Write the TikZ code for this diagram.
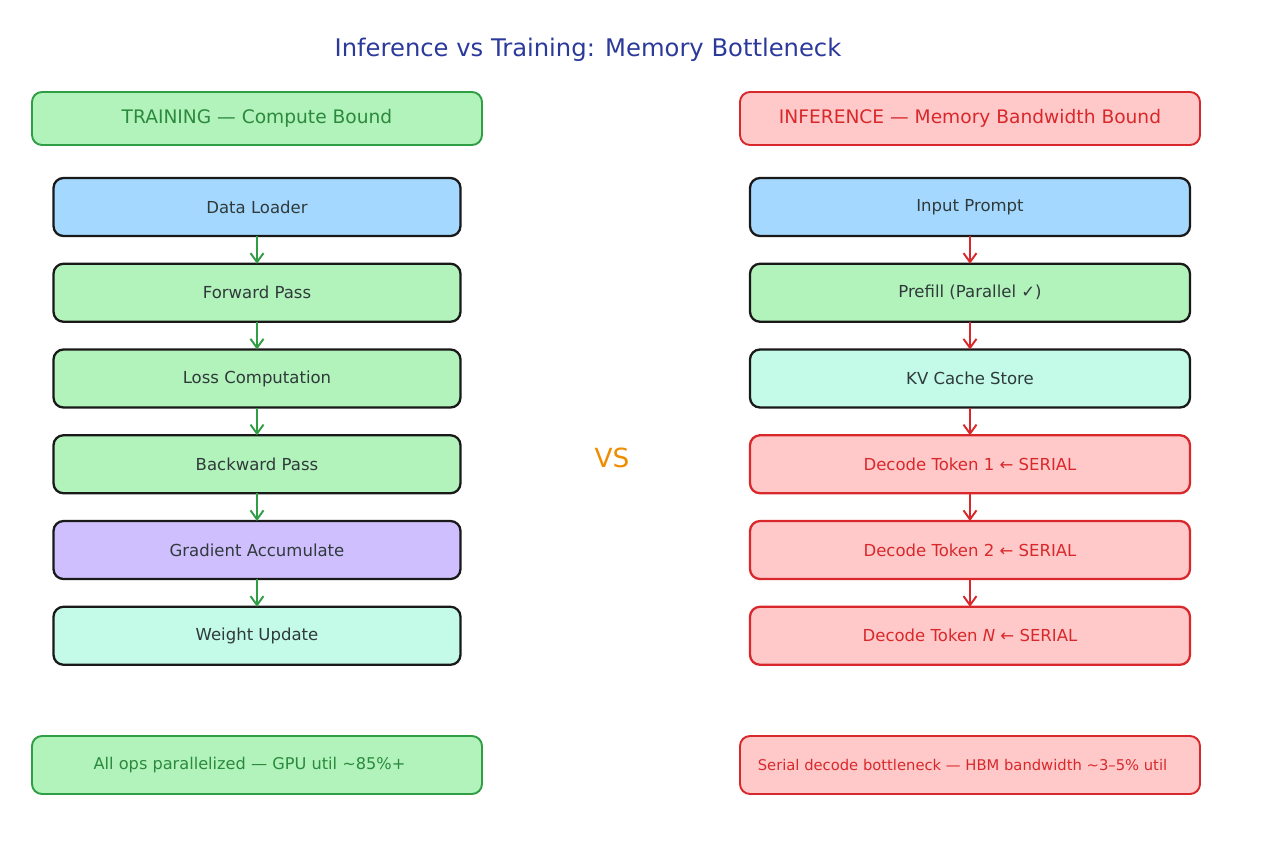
\documentclass[tikz,border=0pt]{standalone}
\usepackage{fontspec}
\setmainfont{DejaVu Sans}
\usepackage{xcolor}
\usetikzlibrary{arrows.meta, positioning}

\definecolor{titleblue}{HTML}{2B3A9A}
\definecolor{inkgray}{HTML}{2F3A3A}
\definecolor{linegreen}{HTML}{2F9E44}
\definecolor{textgreen}{HTML}{2B8A3E}
\definecolor{fillgreen}{HTML}{B2F2BB}
\definecolor{linered}{HTML}{D9282B}
\definecolor{fillred}{HTML}{FFC9C9}
\definecolor{fillblue}{HTML}{A5D8FF}
\definecolor{fillpurple}{HTML}{D0BFFF}
\definecolor{fillmint}{HTML}{C3FAE8}
\definecolor{vsorange}{HTML}{F08C00}

\begin{document}
\begin{tikzpicture}[x=0.2mm, y=-0.2mm,
    headstyle/.style={draw, rounded corners=2mm, line width=1.1pt, minimum height=1.06cm, outer sep=0pt, font=\fontsize{10.6}{12}\selectfont},
    stepbox/.style={draw=black!90, rounded corners=2mm, line width=1.3pt, minimum height=1.16cm, outer sep=0pt, text=inkgray, font=\fontsize{9.4}{11}\selectfont},
    redbox/.style={stepbox, draw=linered, fill=fillred, text=linered},
    notestyle/.style={draw, rounded corners=2mm, line width=1.1pt, minimum height=1.16cm, outer sep=0pt, font=\fontsize{8.4}{10}\selectfont},
    greenarrow/.style={-{Straight Barb[length=1.8mm, width=2.6mm]}, linegreen, line width=1.1pt},
    redarrow/.style={-{Straight Barb[length=1.8mm, width=2.6mm]}, linered, line width=1.1pt}]
  \useasboundingbox (0,0) rectangle (1280,845);
  % title
  \node[text=titleblue, font=\fontsize{13.8}{16}\selectfont] (title) at (588,50) {Inference vs Training: Memory Bottleneck};
  % column headers
  \node[headstyle, draw=linegreen, fill=fillgreen, text=textgreen, minimum width=9cm] (trainhead) at (257,118.5) {TRAINING — Compute Bound};
  \node[headstyle, draw=linered, fill=fillred, text=linered, minimum width=9.2cm] (inferhead) at (970,118.5) {INFERENCE — Memory Bandwidth Bound};
  % training steps
  \node[stepbox, fill=fillblue, minimum width=8.14cm] (loader) at (257,207) {Data Loader};
  \node[stepbox, fill=fillgreen, minimum width=8.14cm, below=0.555cm of loader] (forward) {Forward Pass};
  \node[stepbox, fill=fillgreen, minimum width=8.14cm, below=0.555cm of forward] (loss) {Loss Computation};
  \node[stepbox, fill=fillgreen, minimum width=8.14cm, below=0.555cm of loss] (backward) {Backward Pass};
  \node[stepbox, fill=fillpurple, minimum width=8.14cm, below=0.555cm of backward] (gradacc) {Gradient Accumulate};
  \node[stepbox, fill=fillmint, minimum width=8.14cm, below=0.555cm of gradacc] (wupdate) {Weight Update};
  % inference steps
  \node[stepbox, fill=fillblue, minimum width=8.8cm] (prompt) at (970,207) {Input Prompt};
  \node[stepbox, fill=fillgreen, minimum width=8.8cm, below=0.555cm of prompt] (prefill) {Prefill (Parallel ✓)};
  \node[stepbox, fill=fillmint, minimum width=8.8cm, below=0.555cm of prefill] (kvcache) {KV Cache Store};
  \node[redbox, minimum width=8.8cm, below=0.555cm of kvcache] (tokA) {Decode Token 1 ← SERIAL};
  \node[redbox, minimum width=8.8cm, below=0.555cm of tokA] (tokB) {Decode Token 2 ← SERIAL};
  \node[redbox, minimum width=8.8cm, below=0.555cm of tokB] (tokN) {Decode Token \textit{N} ← SERIAL};
  % arrows
  \foreach \a/\b in {loader/forward, forward/loss, loss/backward, backward/gradacc, gradacc/wupdate}
    \draw[greenarrow] (\a.south) -- (\b.north);
  \foreach \a/\b in {prompt/prefill, prefill/kvcache, kvcache/tokA, tokA/tokB, tokB/tokN}
    \draw[redarrow] (\a.south) -- (\b.north);
  % vs
  \node[text=vsorange, font=\fontsize{15}{17}\selectfont] (vs) at (612,458) {VS};
  % summaries
  \node[notestyle, draw=linegreen, fill=fillgreen, text=textgreen, minimum width=9cm, font=\fontsize{9.2}{11}\selectfont] (trainnote) at (257,765) {\hspace*{-3mm}All ops parallelized — GPU util \textasciitilde85\%+};
  \node[notestyle, draw=linered, fill=fillred, text=linered, minimum width=9.2cm] (infernote) at (970,765) {\hspace*{-3mm}Serial decode bottleneck — HBM bandwidth \textasciitilde3–5\% util};
\end{tikzpicture}
\end{document}
